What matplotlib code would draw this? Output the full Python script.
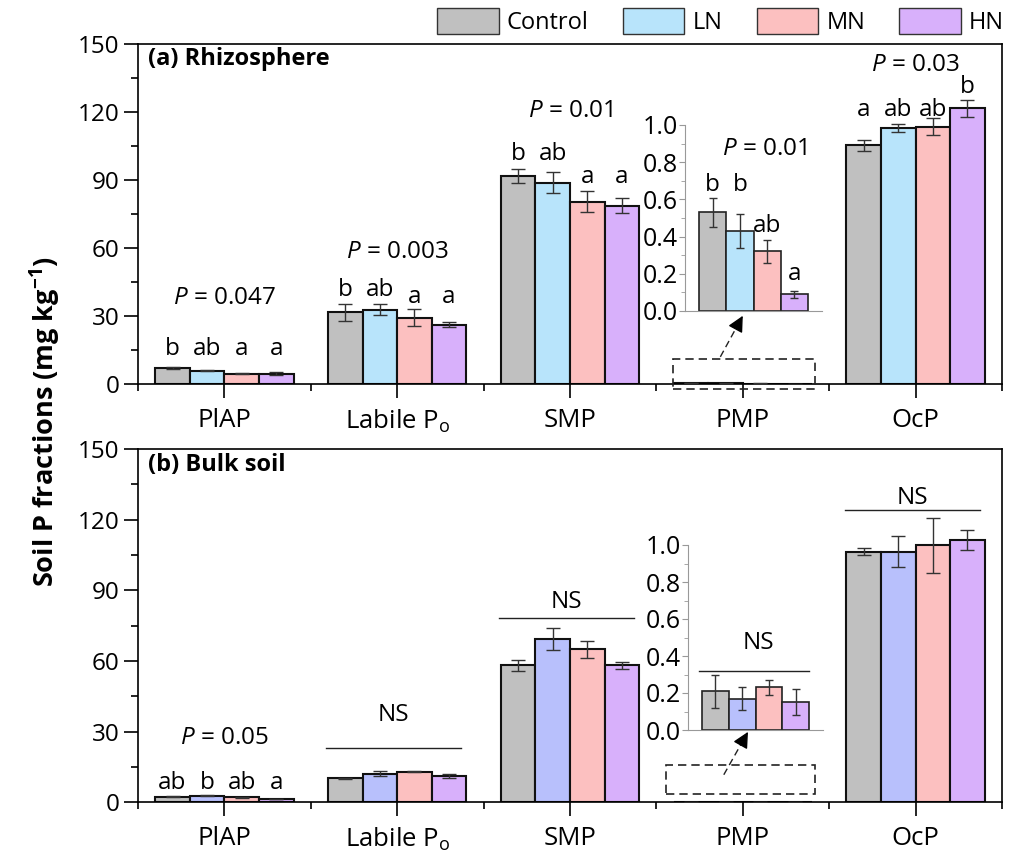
import numpy as np
import matplotlib.pyplot as plt
from matplotlib.patches import Rectangle, Patch

plt.rcParams['font.family'] = ['Open Sans', 'DejaVu Sans']
plt.rcParams['mathtext.fontset'] = 'custom'
plt.rcParams['mathtext.rm'] = 'Open Sans'
plt.rcParams['mathtext.it'] = 'Open Sans:italic'
plt.rcParams['mathtext.bf'] = 'Open Sans:bold'

# categorias y tratamientos
cats = ['PlAP', r'Labile P$_\mathregular{o}$', 'SMP', 'PMP', 'OcP']
trats = ['Control', 'LN', 'MN', 'HN']

# (a) rizosfera: medias y errores por tratamiento (orden de cats)
rh_control = [7.2, 31.8, 92.0, 0.53, 105.4]
rh_ln = [5.9, 32.8, 88.9, 0.43, 113.1]
rh_mn = [4.7, 29.3, 80.5, 0.32, 113.6]
rh_hn = [4.7, 26.3, 78.8, 0.09, 121.7]
rh_control_se = [0.3, 3.7, 3.1, 0.08, 2.4]
rh_ln_se = [0.2, 2.4, 4.6, 0.09, 1.7]
rh_mn_se = [0.2, 3.8, 4.6, 0.06, 3.8]
rh_hn_se = [0.7, 1.1, 3.4, 0.02, 3.7]

# (b) suelo bulk
bk_control = [2.4, 10.2, 58.1, 0.21, 106.4]
bk_ln = [2.7, 12.2, 69.3, 0.17, 106.4]
bk_mn = [2.1, 13.0, 64.9, 0.23, 109.1]
bk_hn = [1.3, 11.0, 58.1, 0.15, 111.3]
bk_control_se = [0.2, 0.2, 2.2, 0.09, 1.6]
bk_ln_se = [0.2, 1.1, 4.7, 0.06, 6.7]
bk_mn_se = [0.1, 0.2, 3.6, 0.04, 11.6]
bk_hn_se = [0.1, 0.85, 1.4, 0.07, 4.1]

# letras de significancia
rh_letras = [['b', 'ab', 'a', 'a'], ['b', 'ab', 'a', 'a'], ['b', 'ab', 'a', 'a'],
             ['b', 'b', 'ab', 'a'], ['a', 'ab', 'ab', 'b']]
rh_pvals = ['0.047', '0.003', '0.01', '0.01', '0.03']
bk_letras_plap = ['ab', 'b', 'ab', 'a']
bk_pval_plap = '0.05'

# alturas (linea base) de los textos
rh_letras_y = [[13.0] * 4, [39.1, 39.1, 35.8, 35.8], [98.9, 98.9, 88.6, 88.6],
               [0.647, 0.647, 0.426, 0.167], [118.1, 118.1, 118.1, 128.4]]
rh_p_y = [35.5, 55.7, 118.0, 0.839, 138.3]

col_rh = ['#c0c0c0', '#b8e4fb', '#fcc0c0', '#d8b0fb']
col_bk = ['#c0c0c0', '#b8c0fc', '#fcc0c0', '#d8b0fb']

W = 0.2
FS = 17.5

fig = plt.figure(figsize=(10.15, 8.58), dpi=100)
ax1 = fig.add_axes([138/1015, 1-384.3/858, (1002-138)/1015, (384.3-44)/858])
ax2 = fig.add_axes([138/1015, 1-802.3/858, (1002-138)/1015, (802.3-449)/858])


def barras(ax, medias, errores, colores, lw=1.5, cap=5):
    x = np.arange(1, len(medias[0]) + 1)
    for j in range(4):
        xs = x + (j - 1.5) * W
        ax.bar(xs, medias[j], W, color=colores[j], edgecolor='#111111', linewidth=lw, zorder=2)
        ax.errorbar(xs, medias[j], yerr=errores[j], fmt='none', ecolor='#333333',
                    elinewidth=1, capsize=cap, capthick=1, zorder=3)


def formato(ax):
    ax.set_xlim(0.5, 5.5)
    ax.set_ylim(0, 150)
    ax.set_yticks(np.arange(0, 151, 30))
    ax.set_yticks(np.arange(15, 150, 30), minor=True)
    ax.set_xticks(np.arange(1, 6))
    ax.set_xticks(np.arange(0.5, 5.6, 1), minor=True)
    ax.set_xticklabels(cats)
    ax.tick_params(axis='both', which='major', direction='out', length=10, width=1.2, labelsize=FS)
    ax.tick_params(axis='both', which='minor', direction='out', length=5, width=1.2)
    ax.tick_params(axis='x', which='major', labelsize=18.5, pad=7)
    for s in ax.spines.values():
        s.set_linewidth(1.2)


def inset(rect, vals, errs, colores):
    ai = fig.add_axes(rect)
    ai.set_facecolor('none')
    xs = np.arange(4)
    ai.bar(xs, vals, 1.0, color=colores, edgecolor='#222222', linewidth=1.2, zorder=2)
    ai.errorbar(xs, vals, yerr=errs, fmt='none', ecolor='#333333', elinewidth=1,
                capsize=3, capthick=1, zorder=3)
    ai.set_xlim(-1.02, 4.02)
    ai.set_ylim(0, 1.0)
    ai.set_yticks(np.arange(0, 1.01, 0.2))
    ai.set_yticks(np.arange(0.1, 1.0, 0.2), minor=True)
    ai.set_yticklabels(['0.0', '0.2', '0.4', '0.6', '0.8', '1.0'])
    ai.set_xticks([])
    ai.spines['top'].set_visible(False)
    ai.spines['right'].set_visible(False)
    ai.spines['left'].set_color('#999999')
    ai.spines['bottom'].set_color('#999999')
    ai.tick_params(axis='y', which='major', length=4, color='#999999', labelsize=18, pad=1)
    ai.tick_params(axis='y', which='minor', length=3, color='#999999')
    return ai


def flecha(ax, x0, y0, x1, y1, rx, ry):
    ax.add_patch(Rectangle((rx[0], ry[0]), rx[1] - rx[0], ry[1] - ry[0], fill=False,
                           linestyle=(0, (5, 3)), edgecolor='#222222', lw=1.2,
                           clip_on=False, zorder=4))
    ax.plot([x0, x0 + (x1 - x0) * 0.8], [y0, y0 + (y1 - y0) * 0.8], ls=(0, (5, 3)),
            color='#222222', lw=1, clip_on=False, zorder=4)
    ax.annotate('', xy=(x1, y1), xytext=(x0 + (x1 - x0) * 0.75, y0 + (y1 - y0) * 0.75),
                arrowprops=dict(arrowstyle='-|>', color='black', lw=1, mutation_scale=24,
                                shrinkA=0, shrinkB=0), annotation_clip=False, zorder=5)


# ---------- (a) rizosfera ----------
rh_m = [rh_control, rh_ln, rh_mn, rh_hn]
rh_e = [rh_control_se, rh_ln_se, rh_mn_se, rh_hn_se]
barras(ax1, rh_m, rh_e, col_rh)
formato(ax1)
ax1.text(0.011, 0.938, '(a) Rhizosphere', transform=ax1.transAxes, fontsize=17,
         fontweight='bold', va='baseline')

for i in [0, 1, 2, 4]:
    for j in range(4):
        ax1.text(i + 1 + (j - 1.5) * W, rh_letras_y[i][j], rh_letras[i][j], ha='center',
                 va='baseline', fontsize=FS)
    ax1.text(i + 1, rh_p_y[i], r'$\it{P}$ = ' + rh_pvals[i], ha='center', va='baseline', fontsize=FS)

ai1 = inset([685/1015, 1-311/858, 137/1015, 186/858], [m[3] for m in rh_m],
            [e[3] for e in rh_e], col_rh)
for j in range(4):
    ai1.text(j, rh_letras_y[3][j], rh_letras[3][j], ha='center', va='baseline', fontsize=FS)
ai1.text(1.9, rh_p_y[3], r'$\it{P}$ = ' + rh_pvals[3], ha='center', va='baseline', fontsize=FS)
flecha(ax1, 3.87, 12.1, 4.0, 30.2, (3.597, 4.415), (-2.1, 11.2))

# ---------- (b) bulk ----------
bk_m = [bk_control, bk_ln, bk_mn, bk_hn]
bk_e = [bk_control_se, bk_ln_se, bk_mn_se, bk_hn_se]
barras(ax2, bk_m, bk_e, col_bk)
formato(ax2)
ax2.text(0.011, 0.938, '(b) Bulk soil', transform=ax2.transAxes, fontsize=17,
         fontweight='bold', va='baseline')

for j in range(4):
    ax2.text(1 + (j - 1.5) * W, 5.6, bk_letras_plap[j], ha='center', va='baseline', fontsize=FS)
ax2.text(1, 24.8, r'$\it{P}$ = ' + bk_pval_plap, ha='center', va='baseline', fontsize=FS)

# NS: (categoria, altura linea, altura texto)
for i, yl, yt in [(1, 22.9, 34.5), (2, 78.2, 82.4), (4, 124.1, 126.8)]:
    ax2.plot([i + 1 - 0.41, i + 1 + 0.37], [yl, yl], color='#222222', lw=1)
    ax2.text(i + 1 - 0.02, yt, 'NS', ha='center', va='baseline', fontsize=FS)

ai2 = inset([688/1015, 1-730/858, 135/1015, 185/858], [m[3] for m in bk_m],
            [e[3] for e in bk_e], col_bk)
ai2.plot([-0.6, 3.5], [0.32, 0.32], color='#222222', lw=1)
ai2.text(1.6, 0.44, 'NS', ha='center', va='baseline', fontsize=FS)
flecha(ax2, 3.89, 11.7, 4.03, 29.9, (3.557, 4.42), (3.5, 15.9))

# eje y comun
fig.text(45/1015, 1-422/858, r'Soil P fractions (mg kg$^{\mathbf{-1}}$)', rotation=90,
         ha='center', va='center', fontsize=19.5, fontweight='bold')

# leyenda
manejadores = [Patch(facecolor=c, edgecolor='#333333', lw=1) for c in col_rh]
fig.legend(manejadores, trats, loc='upper right', bbox_to_anchor=(1004/1015, 1 - 8/858),
           ncol=4, frameon=False, fontsize=17, handlelength=2.6, handleheight=1.3,
           handletextpad=0.35, columnspacing=1.45, borderaxespad=0, borderpad=0)

fig.savefig('out.png', dpi=100)
